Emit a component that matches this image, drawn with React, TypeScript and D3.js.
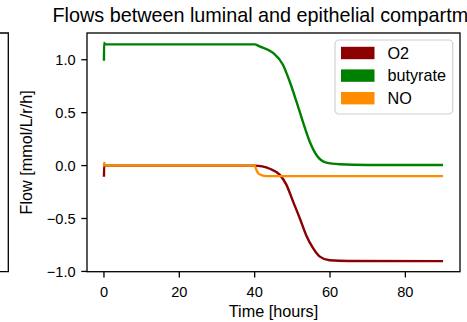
import React from "react";
import * as d3 from "d3";

const titleText = "Flows between luminal and epithelial compartments";
const xLabel = "Time [hours]";
const yLabel = "Flow [mmol/L/r/h]";

const xTicks = [0, 20, 40, 60, 80];
const yTicks = [-1.0, -0.5, 0.0, 0.5, 1.0];

const seriesNames = ["O2", "butyrate", "NO"];
const seriesColors = ["#8B0000", "#008000", "#FF8C00"];

const o2Time = [0, 0.05, 40, 42, 44, 46.7, 48.4, 50.2, 52, 53.7, 55.5, 57.3, 59.9, 65, 90];
const o2Flow = [-0.105, 0, 0, -0.008, -0.03, -0.088, -0.18, -0.34, -0.5, -0.66, -0.78, -0.86, -0.895, -0.902, -0.903];

const butTime = [0, 0.02, 0.3, 40, 41.3, 44.9, 47.5, 49.3, 51.1, 52.8, 54.6, 56.4, 59, 62.6, 70, 90];
const butFlow = [0.99, 1.16, 1.145, 1.145, 1.126, 1.064, 0.953, 0.794, 0.604, 0.414, 0.228, 0.1, 0.028, 0.013, 0.006, 0.005];

const noTime = [0, 0.05, 0.3, 40, 40.5, 41, 42, 43, 90];
const noFlow = [0, 0.025, 0, 0, -0.045, -0.075, -0.093, -0.1, -0.1];

const W = 467;
const H = 322;
const left = 87;
const right = 460;
const top = 33;
const bottom = 271.7;

export default function App() {
  const x = d3.scaleLinear().domain([-4.5, 94.5]).range([left, right]);
  const y = d3.scaleLinear().domain([-1.0025, 1.2525]).range([bottom, top]);
  const fmt = d3.format(".1f");

  const series = [
    { t: o2Time, v: o2Flow },
    { t: butTime, v: butFlow },
    { t: noTime, v: noFlow },
  ];

  const line = d3
    .line<[number, number]>()
    .x((d) => x(d[0]))
    .y((d) => y(d[1]))
    .curve(d3.curveMonotoneX);

  const font = "'Liberation Sans', Arial, Helvetica, sans-serif";
  const tickFs = 14.6;
  const labelFs = 16.2;

  const legX = 335;
  const legY = 40;
  const legW = 117.7;
  const legH = 74;

  return (
    <svg
      width={W}
      height={H}
      style={{ position: "absolute", left: 0, top: 0, background: "#fff" }}
      fontFamily={font}
    >
      <rect x={0} y={0} width={W} height={H} fill="#fff" />
      {/* neighbouring subplot edge */}
      <path
        d={`M0,${top} H8.3 V${bottom} H0`}
        fill="none"
        stroke="#000"
        strokeWidth={1.3}
      />

      {/* series */}
      {series.map((s, i) => (
        <path
          key={seriesNames[i]}
          d={line(s.t.map((t, j) => [t, s.v[j]] as [number, number])) || ""}
          fill="none"
          stroke={seriesColors[i]}
          strokeWidth={2.4}
          strokeLinejoin="round"
        />
      ))}

      {/* axes frame */}
      <rect
        x={left}
        y={top}
        width={right - left}
        height={bottom - top}
        fill="none"
        stroke="#000"
        strokeWidth={1.3}
      />

      {/* x ticks */}
      {xTicks.map((t) => (
        <g key={"x" + t}>
          <line x1={x(t)} x2={x(t)} y1={bottom} y2={bottom + 5.7} stroke="#000" strokeWidth={1.3} />
          <text x={x(t)} y={296.5} textAnchor="middle" fontSize={tickFs} fill="#000">
            {t}
          </text>
        </g>
      ))}

      {/* y ticks */}
      {yTicks.map((t) => (
        <g key={"y" + t}>
          <line x1={left - 5.7} x2={left} y1={y(t)} y2={y(t)} stroke="#000" strokeWidth={1.3} />
          <text
            x={left - 5.7 - 5.7}
            y={y(t)}
            dy="0.35em"
            textAnchor="end"
            fontSize={tickFs}
            fill="#000"
          >
            {fmt(t)}
          </text>
        </g>
      ))}

      {/* labels */}
      <text x={(left + right) / 2} y={317} textAnchor="middle" fontSize={labelFs} fill="#000">
        {xLabel}
      </text>
      <text
        transform={`translate(31.7,${(top + bottom) / 2}) rotate(-90)`}
        textAnchor="middle"
        fontSize={labelFs}
        fill="#000"
      >
        {yLabel}
      </text>
      <text x={52.5} y={21.7} textAnchor="start" fontSize={19.8} fill="#000">
        {titleText}
      </text>

      {/* legend */}
      <rect
        x={legX}
        y={legY}
        width={legW}
        height={legH}
        rx={4}
        ry={4}
        fill="#fff"
        fillOpacity={0.8}
        stroke="#d0d0d0"
        strokeWidth={1.2}
      />
      {seriesNames.map((n, i) => {
        const cy = 53 + i * 22.6;
        return (
          <g key={"leg" + n}>
            <rect x={341} y={cy - 6.2} width={33.5} height={12.4} fill={seriesColors[i]} />
            <text x={387.5} y={cy} dy="0.36em" fontSize={labelFs} fill="#000">
              {n}
            </text>
          </g>
        );
      })}
    </svg>
  );
}
